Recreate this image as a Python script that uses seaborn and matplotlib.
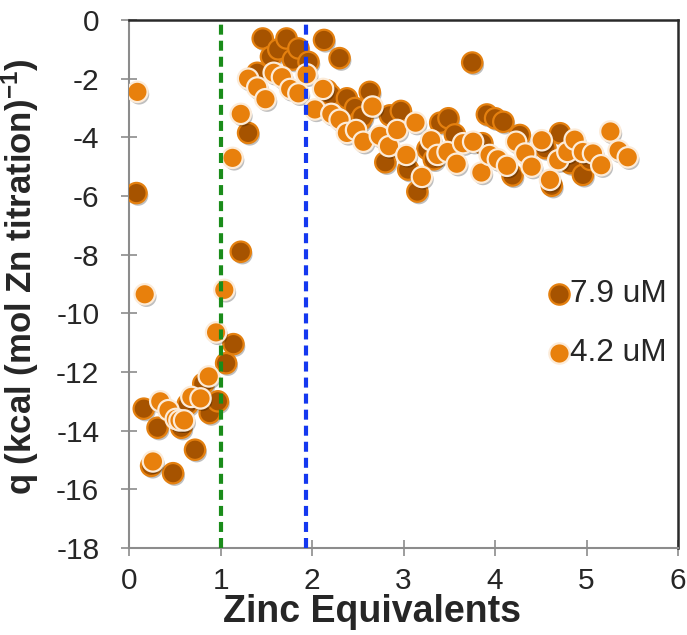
import matplotlib
matplotlib.use("Agg")
import matplotlib.pyplot as plt
import matplotlib.patheffects as pe
import numpy as np
import pandas as pd
import seaborn as sns

# 7.9 uM titration
x_79 = [0.08, 0.16, 0.24, 0.31, 0.48, 0.57, 0.64, 0.72, 0.81, 0.88, 0.97, 1.06,
        1.14, 1.22, 1.30, 1.40, 1.46, 1.55, 1.63, 1.72, 1.79, 1.85, 1.96, 2.13,
        2.16, 2.20, 2.30, 2.38, 2.47, 2.52, 2.55, 2.63, 2.80, 2.85, 2.97, 3.05,
        3.15, 3.26, 3.33, 3.40, 3.49, 3.56, 3.75, 3.86, 3.91, 4.00, 4.09, 4.19,
        4.27, 4.55, 4.62, 4.71, 4.82, 4.96, 5.04]
q_79 = [-5.9, -13.25, -15.2, -13.9, -15.45, -13.9, -13.1, -14.65, -12.4, -13.4,
        -13.0, -11.7, -11.05, -7.9, -3.85, -1.8, -0.63, -1.25, -1.0, -0.63,
        -1.35, -0.97, -1.43, -0.68, -2.4, -2.55, -1.3, -2.67, -3.0, -3.45,
        -3.3, -2.45, -4.85, -3.25, -3.1, -5.1, -5.85, -4.4, -4.75, -3.5, -3.35,
        -3.9, -1.45, -4.2, -3.22, -3.35, -3.47, -5.3, -3.92, -4.37, -5.65,
        -3.86, -4.88, -5.28, -4.77]

# 4.2 uM titration
x_42 = [0.09, 0.17, 0.26, 0.34, 0.43, 0.51, 0.55, 0.60, 0.68, 0.78, 0.87, 0.95,
        1.04, 1.13, 1.22, 1.30, 1.40, 1.49, 1.58, 1.67, 1.76, 1.85, 1.94, 2.03,
        2.12, 2.21, 2.30, 2.38, 2.48, 2.56, 2.66, 2.74, 2.84, 2.93, 3.03, 3.13,
        3.20, 3.30, 3.37, 3.48, 3.58, 3.65, 3.76, 3.85, 3.94, 4.03, 4.13, 4.23,
        4.33, 4.40, 4.51, 4.60, 4.69, 4.79, 4.87, 4.96, 5.07, 5.16, 5.26, 5.35,
        5.45]
q_42 = [-2.45, -9.35, -15.05, -13.0, -13.3, -13.6, -13.65, -13.65, -12.85,
        -12.9, -12.15, -10.65, -9.2, -4.7, -3.2, -2.0, -2.3, -2.7, -1.8, -1.95,
        -2.35, -2.5, -1.85, -3.05, -2.35, -3.2, -3.4, -3.85, -3.75, -4.15,
        -2.95, -3.95, -4.3, -3.75, -4.6, -3.5, -5.35, -4.1, -4.6, -4.5, -4.9,
        -4.2, -4.15, -5.2, -4.6, -4.75, -4.97, -4.15, -4.55, -5.0, -4.1,
        -5.45, -4.78, -4.5, -4.08, -4.5, -4.55, -4.95, -3.8, -4.45, -4.68]

series_labels = ["7.9 uM", "4.2 uM"]
x_ticks = [0, 1, 2, 3, 4, 5, 6]
y_ticks = [0, -2, -4, -6, -8, -10, -12, -14, -16, -18]
marker_lines = [1.0, 1.93]

df = pd.DataFrame({
    "x": x_79 + x_42,
    "q": q_79 + q_42,
    "conc": [series_labels[0]] * len(x_79) + [series_labels[1]] * len(x_42),
})

sns.set_style("white")
plt.rcParams["font.family"] = ["Liberation Sans", "DejaVu Sans"]
plt.rcParams["axes.unicode_minus"] = False
plt.rcParams["mathtext.fontset"] = "custom"
plt.rcParams["mathtext.rm"] = "Liberation Sans:bold"
plt.rcParams["mathtext.bf"] = "Liberation Sans:bold"
plt.rcParams["mathtext.default"] = "bf"

fig = plt.figure(figsize=(6.87, 6.35), dpi=100)
ax = fig.add_axes([0.188, 0.137, 0.799, 0.8315])

shadow = [pe.SimplePatchShadow(offset=(1.2, -1.8), shadow_rgbFace="black", alpha=0.25),
          pe.Normal()]

face = {series_labels[0]: "#A65300", series_labels[1]: "#E8800C"}
edge = {series_labels[0]: "#E4800F", series_labels[1]: "#FCEBD8"}

for lab in series_labels:
    sub = df[df["conc"] == lab]
    sns.scatterplot(data=sub, x="x", y="q", ax=ax, s=215, color=face[lab],
                    edgecolor=edge[lab], linewidth=1.6, label=lab, zorder=3)
for coll in ax.collections:
    coll.set_path_effects(shadow)

ax.axvline(marker_lines[0], color="#1A8C1A", lw=3.0, ls=(0, (2.4, 1.45)), zorder=5)
ax.axvline(marker_lines[1], color="#1438F0", lw=3.0, ls=(0, (2.4, 1.45)), zorder=5)

ax.set_xlim(0, 6)
ax.set_ylim(-18, 0)
ax.set_xticks(x_ticks)
ax.set_yticks(y_ticks)
ax.tick_params(axis="both", which="major", labelsize=21.5, length=11, width=1.2,
               color="#8C8C8C", direction="inout", bottom=True, left=True)
ax.tick_params(axis="x", pad=8)
ax.tick_params(axis="y", pad=16)

for side in ("left", "bottom"):
    ax.spines[side].set_color("#8C8C8C")
    ax.spines[side].set_linewidth(1.5)
for side in ("top", "right"):
    ax.spines[side].set_color("#2A2A2A")
    ax.spines[side].set_linewidth(1.8)

ax.set_xlabel("Zinc Equivalents", fontsize=27, fontweight="bold")
ax.xaxis.set_label_coords(0.443, -0.088)
ax.set_ylabel(r"q (kcal (mol Zn titration)$^{-1}$)", fontsize=25,
              fontweight="bold")
ax.yaxis.set_label_coords(-0.160, 0.513)

leg = ax.legend(loc="center right", bbox_to_anchor=(0.98, 0.425), frameon=False,
                fontsize=22.8, handletextpad=0.0, labelspacing=0.9,
                handlelength=0.7, borderaxespad=0.0, borderpad=0.0)
for h in leg.legend_handles:
    h.set_path_effects([])

fig.savefig("out.png", dpi=100)
